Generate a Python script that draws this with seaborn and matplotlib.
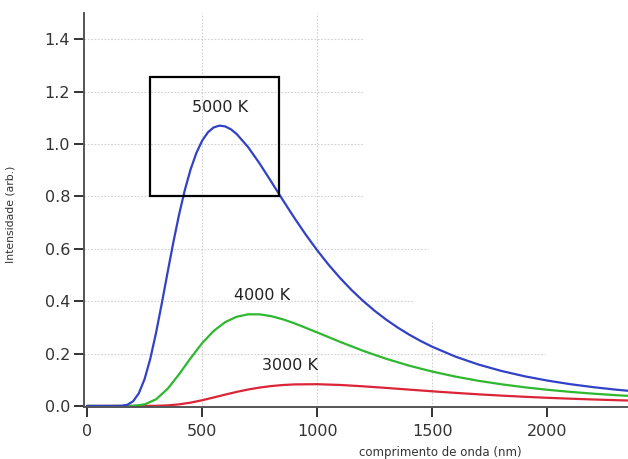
import numpy as np
import pandas as pd
import matplotlib
matplotlib.use("Agg")
import matplotlib.pyplot as plt
from matplotlib.patches import Rectangle
import seaborn as sns

# ---- data ----
wl_5000 = [0, 100, 150, 175, 200, 225, 250, 275, 300, 325, 350, 375, 400, 425, 450, 475,
           500, 525, 550, 575, 600, 625, 650, 700, 750, 800, 850, 900, 950, 1000, 1050,
           1100, 1150, 1200, 1250, 1300, 1350, 1400, 1450, 1500, 1600, 1700, 1800, 1900,
           2000, 2100, 2200, 2300, 2400]
i_5000 = [0.0, 0.0, 0.0006, 0.0044, 0.0176, 0.0482, 0.1023, 0.1808, 0.2799, 0.3922, 0.5098,
          0.6248, 0.7311, 0.8246, 0.9032, 0.9656, 1.0123, 1.0444, 1.0631, 1.0701, 1.0671,
          1.0560, 1.0382, 0.9877, 0.9251, 0.8565, 0.7868, 0.7188, 0.6541, 0.5939, 0.5383,
          0.4877, 0.4417, 0.4002, 0.3628, 0.3292, 0.2990, 0.2719, 0.2476, 0.2258, 0.1884,
          0.1582, 0.1336, 0.1134, 0.0968, 0.0830, 0.0716, 0.0620, 0.0540]

wl_common = [0, 100, 150, 200, 250, 300, 350, 400, 450, 500, 550, 600, 650, 700, 750, 800,
             850, 900, 1000, 1100, 1200, 1300, 1400, 1500, 1600, 1700, 1800, 1900, 2000,
             2100, 2200, 2300, 2400]
i_4000 = [0.0, 0.0, 0.0, 0.0005, 0.0058, 0.0254, 0.0653, 0.1210, 0.1823, 0.2396, 0.2863,
          0.3199, 0.3405, 0.3497, 0.3497, 0.3427, 0.3309, 0.3158, 0.2806, 0.2443, 0.2103,
          0.1799, 0.1536, 0.1312, 0.1121, 0.0961, 0.0827, 0.0713, 0.0617, 0.0537, 0.0468,
          0.0410, 0.0360]
i_3000 = [0.0, 0.0, 0.0, 0.0, 0.0, 0.0005, 0.0021, 0.0060, 0.0127, 0.0218, 0.0323, 0.0433,
          0.0536, 0.0628, 0.0702, 0.0759, 0.0798, 0.0822, 0.0830, 0.0801, 0.0749, 0.0688,
          0.0623, 0.0559, 0.0499, 0.0444, 0.0395, 0.0350, 0.0311, 0.0277, 0.0246, 0.0220,
          0.0196]

series_names = ["5000 K", "4000 K", "3000 K"]
series_colors = ["#3141c8", "#2fb82f", "#dc2438"]
x_ticks = [0, 500, 1000, 1500, 2000]
y_ticks = [0.0, 0.2, 0.4, 0.6, 0.8, 1.0, 1.2, 1.4]

df = pd.concat([
    pd.DataFrame({"wl": wl_5000, "I": i_5000, "T": series_names[0]}),
    pd.DataFrame({"wl": wl_common, "I": i_4000, "T": series_names[1]}),
    pd.DataFrame({"wl": wl_common, "I": i_3000, "T": series_names[2]}),
], ignore_index=True)

sns.set_style("white")
plt.rcParams["font.family"] = ["DejaVu Sans"]

fig = plt.figure(figsize=(6.28, 4.59), dpi=100)
ax = fig.add_axes([0.1338, 0.1133, 0.8662, 0.8584])

# partial dotted grid like the reference
grid_kw = dict(color="#cfcfcf", lw=0.8, ls=(0, (1.5, 1.5)), zorder=0)
xmin, xmax = -13, 2350
def frac(v):
    return (v - xmin) / (xmax - xmin)
h_ext = {0.2: 1990, 0.4: 1420, 0.6: 1480, 0.8: 1200, 1.0: 1200, 1.2: 1200, 1.4: 1200}
for yv, xe in h_ext.items():
    ax.axhline(yv, xmin=0, xmax=frac(xe), **grid_kw)
ax.axvline(500, **grid_kw)
ax.axvline(1000, **grid_kw)
ax.axvline(1500, ymin=0.0, ymax=0.33 / 1.5, **grid_kw)

sns.lineplot(data=df, x="wl", y="I", hue="T", hue_order=series_names[::-1],
             palette=dict(zip(series_names, series_colors)), estimator=None,
             sort=False, lw=1.6, legend=False, ax=ax)

ax.set_xlim(xmin, xmax)
ax.set_ylim(-0.004, 1.5)
ax.set_xticks(x_ticks)
ax.set_yticks(y_ticks)
ax.set_yticklabels([f"{v:.1f}" for v in y_ticks])
ax.set_xticklabels([str(v) for v in x_ticks])

for s in ["top", "right"]:
    ax.spines[s].set_visible(False)
for s in ["left", "bottom"]:
    ax.spines[s].set_color("#555555")
    ax.spines[s].set_linewidth(1.4)
ax.tick_params(axis="both", direction="out", length=7, width=1.4, color="#333333",
               labelsize=11.5, labelcolor="#333333", pad=3, left=True, bottom=True)
ax.tick_params(axis="x", pad=5)

ax.set_xlabel("comprimento de onda (nm)", fontsize=8.5, color="#333333", va="center")
ax.xaxis.set_label_coords(frac(1535), -0.115)
ax.set_ylabel("Intensidade (arb.)", fontsize=7.8, color="#333333", va="center")
ax.yaxis.set_label_coords(-0.136, 0.49)

# labels
ax.text(577, 1.14, "5000 K", fontsize=11.5, color="#222222", ha="center", va="center")
ax.text(759, 0.42, "4000 K", fontsize=11.5, color="#222222", ha="center", va="center")
ax.text(880, 0.155, "3000 K", fontsize=11.5, color="#222222", ha="center", va="center")

ax.add_patch(Rectangle((273, 0.80), 560, 0.455, fill=False, ec="black", lw=1.6, zorder=5))

fig.savefig("out.png", dpi=100)
